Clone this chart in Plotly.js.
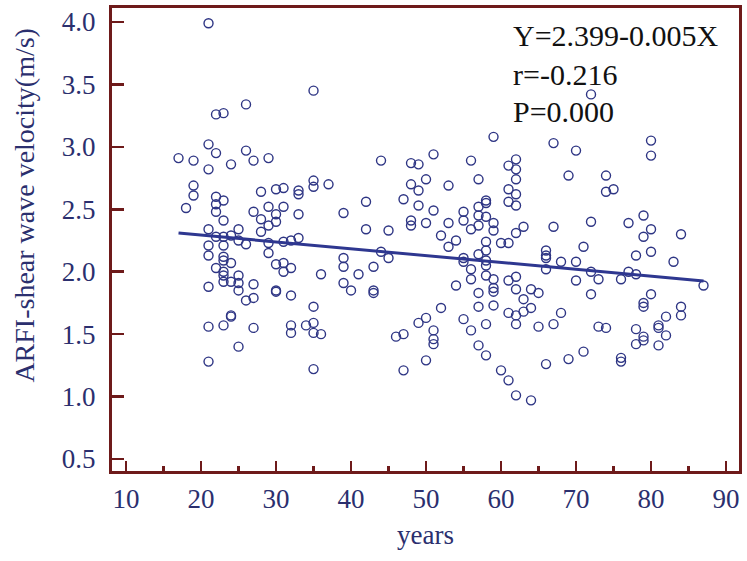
<!DOCTYPE html>
<html>
<head>
<meta charset="utf-8">
<script src="https://cdn.plot.ly/plotly-3.0.1.min.js"></script>
<style>html,body{margin:0;padding:0;background:#fff;}#chart{width:747px;height:561px;}</style>
</head>
<body>
<div id="chart"></div>
<script>
// Age (years) of each subject
const ages = [
  17, 18, 19, 19, 19,
  21, 21, 21, 21, 21, 21, 21, 21, 21,
  22, 22, 22, 22, 22, 22, 22,
  23, 23, 23, 23, 23, 23, 23, 23, 23, 23, 23,
  24, 24, 24, 24, 24, 24,
  25, 25, 25, 25, 25, 25,
  26, 26, 26, 26,
  27, 27, 27, 27, 27,
  28, 28, 28,
  29, 29, 29, 29, 29,
  30, 30, 30, 30, 30, 30,
  31, 31, 31, 31, 31,
  32, 32, 32, 32, 32,
  33, 33, 33, 33,
  34,
  35, 35, 35, 35, 35, 35, 35,
  36, 36, 37,
  39, 39, 39, 39, 40, 41, 42, 42,
  43, 43, 43, 44, 44, 45, 45, 46,
  47, 47, 47,
  48, 48, 48, 48,
  49, 49, 49, 49,
  50, 50, 50, 50,
  51, 51, 51, 51, 51,
  52, 52, 53, 53, 53, 54, 54,
  55, 55, 55, 55, 55,
  56, 56, 56, 56, 56,
  57, 57, 57, 57, 57, 57, 57, 57,
  58, 58, 58, 58, 58, 58, 58, 58, 58, 58,
  59, 59, 59, 59, 59, 59, 59,
  60, 60,
  61, 61, 61, 61, 61, 61, 61,
  62, 62, 62, 62, 62, 62, 62, 62, 62, 62, 62,
  63, 63, 63, 64, 64, 64, 65, 65,
  66, 66, 66, 66, 66,
  67, 67, 67, 68, 68, 69, 69,
  70, 70, 70, 71, 71,
  72, 72, 72, 72, 73, 73,
  74, 74, 74, 75, 76, 76, 76, 77, 77,
  78, 78, 78, 78,
  79, 79, 79, 79, 79, 79,
  80, 80, 80, 80, 80,
  81, 81, 81, 82, 82, 83, 84, 84, 84, 87
];
// ARFI shear wave velocity (m/s) of each subject
const velocity = [
  2.91, 2.51, 2.89, 2.69, 2.61,
  3.99, 3.02, 2.82, 2.34, 2.21, 2.13, 1.88, 1.56, 1.28,
  3.26, 2.95, 2.60, 2.54, 2.48, 2.28, 2.03,
  3.27, 2.57, 2.41, 2.28, 2.21, 2.12, 2.09, 2.00, 1.97, 1.92, 1.57,
  2.86, 2.29, 2.07, 1.92, 1.65, 1.64,
  2.34, 2.25, 1.97, 1.91, 1.85, 1.40,
  3.34, 2.97, 2.22, 1.77,
  2.89, 2.48, 1.90, 1.79, 1.55,
  2.64, 2.42, 2.32,
  2.91, 2.52, 2.37, 2.23, 2.15,
  2.66, 2.46, 2.40, 2.06, 1.85, 1.84,
  2.67, 2.52, 2.24, 2.07, 2.00,
  2.25, 2.03, 1.81, 1.57, 1.51,
  2.65, 2.62, 2.46, 2.27,
  1.57,
  3.45, 2.73, 2.68, 1.72, 1.59, 1.51, 1.22,
  1.98, 1.50, 2.70,
  2.47, 2.11, 2.04, 1.91, 1.85, 1.98, 2.56, 2.34,
  2.04, 1.85, 1.83, 2.89, 2.16, 2.33, 2.11, 1.48,
  2.58, 1.50, 1.21,
  2.87, 2.70, 2.41, 2.37,
  2.86, 2.65, 2.53, 1.59,
  2.74, 2.39, 1.63, 1.29,
  2.94, 2.49, 1.53, 1.46, 1.42,
  2.29, 1.71, 2.69, 2.39, 2.20, 2.25, 1.89,
  2.48, 2.41, 2.11, 2.08, 1.62,
  2.89, 2.34, 2.02, 1.94, 1.53,
  2.74, 2.52, 2.45, 2.37, 2.14, 1.83, 1.72, 1.41,
  2.57, 2.55, 2.44, 2.24, 2.17, 2.09, 2.05, 1.97, 1.58, 1.33,
  3.08, 2.39, 2.33, 1.94, 1.87, 1.84, 1.73,
  2.23, 1.21,
  2.85, 2.66, 2.56, 2.23, 1.93, 1.67, 1.13,
  2.90, 2.82, 2.74, 2.62, 2.53, 2.31, 1.96, 1.86, 1.65, 1.58, 1.01,
  2.36, 1.78, 1.68, 1.86, 1.71, 0.97, 1.83, 1.56,
  2.17, 2.13, 2.11, 2.02, 1.26,
  3.03, 2.36, 1.58, 2.08, 1.67, 2.77, 1.30,
  2.97, 2.08, 1.93, 2.20, 1.36,
  3.42, 2.40, 2.00, 1.82, 1.94, 1.56,
  2.77, 2.64, 1.55, 2.66, 1.94, 1.31, 1.28, 2.39, 2.00,
  2.13, 1.98, 1.54, 1.42,
  2.45, 2.28, 1.75, 1.72, 1.48, 1.45,
  3.05, 2.93, 2.34, 2.16, 1.82,
  1.57, 1.55, 1.41, 1.64, 1.49, 2.08, 2.30, 1.72, 1.65, 1.89
];
// Fitted regression line end points (as drawn)
const fitX = [17, 87];
const fitY = [2.31, 1.926];
// Statistics text
const statLines = ["Y=2.399-0.005X", "r=-0.216", "P=0.000"];
const xTicks = [10, 20, 30, 40, 50, 60, 70, 80, 90];
const yTicks = [0.5, 1.0, 1.5, 2.0, 2.5, 3.0, 3.5, 4.0];
const yTickText = ["0.5", "1.0", "1.5", "2.0", "2.5", "3.0", "3.5", "4.0"];

const axisColor = '#6e1a1a';
const labelColor = '#2b2f6e';
const serif = '"Liberation Serif", "Times New Roman", serif';

const traces = [
  {
    x: ages, y: velocity, type: 'scatter', mode: 'markers',
    marker: {symbol: 'circle-open', size: 9, color: '#2e3584', line: {width: 1.4}},
    hoverinfo: 'x+y'
  },
  {
    x: fitX, y: fitY, type: 'scatter', mode: 'lines',
    line: {color: '#2e3790', width: 3}
  }
];

const statY = [0.94, 0.856, 0.777];
const annotations = statLines.map((t, i) => ({
  text: t, xref: 'paper', yref: 'paper', x: 0.636, y: statY[i],
  xanchor: 'left', yanchor: 'middle', showarrow: false,
  font: {family: serif, size: 30, color: '#111111'}
}));
annotations.push({
  text: 'ARFI-shear wave velocity(m/s)', xref: 'paper', yref: 'paper',
  x: -0.139, y: 0.575, textangle: -90, xanchor: 'center', yanchor: 'middle',
  showarrow: false, font: {family: serif, size: 28, color: labelColor}
});

const layout = {
  width: 747, height: 561,
  margin: {l: 112, r: 8, t: 8, b: 90},
  paper_bgcolor: '#ffffff', plot_bgcolor: '#ffffff',
  showlegend: false,
  xaxis: {
    range: [8.13, 91.73], tickvals: xTicks, ticks: 'inside', ticklen: 10, tickwidth: 2.5,
    tickcolor: axisColor, showline: true, linecolor: axisColor, linewidth: 3, mirror: true,
    showgrid: false, zeroline: false, ticklabelstandoff: 2,
    minor: {dtick: 5, tick0: 0, ticks: 'inside', ticklen: 5, tickwidth: 2.5, tickcolor: axisColor, showgrid: false},
    tickfont: {family: serif, size: 27, color: labelColor},
    title: {text: 'years', font: {family: serif, size: 27, color: labelColor}, standoff: 12}
  },
  yaxis: {
    range: [0.404, 4.112], tickvals: yTicks, ticktext: yTickText, ticks: 'inside', ticklen: 12, tickwidth: 2.5,
    tickcolor: axisColor, showline: true, linecolor: axisColor, linewidth: 3, mirror: true,
    showgrid: false, zeroline: false, ticklabelstandoff: 8,
    tickfont: {family: serif, size: 27, color: labelColor}
  },
  annotations: annotations
};

Plotly.newPlot('chart', traces, layout, {displayModeBar: false, staticPlot: true});
</script>
</body>
</html>
